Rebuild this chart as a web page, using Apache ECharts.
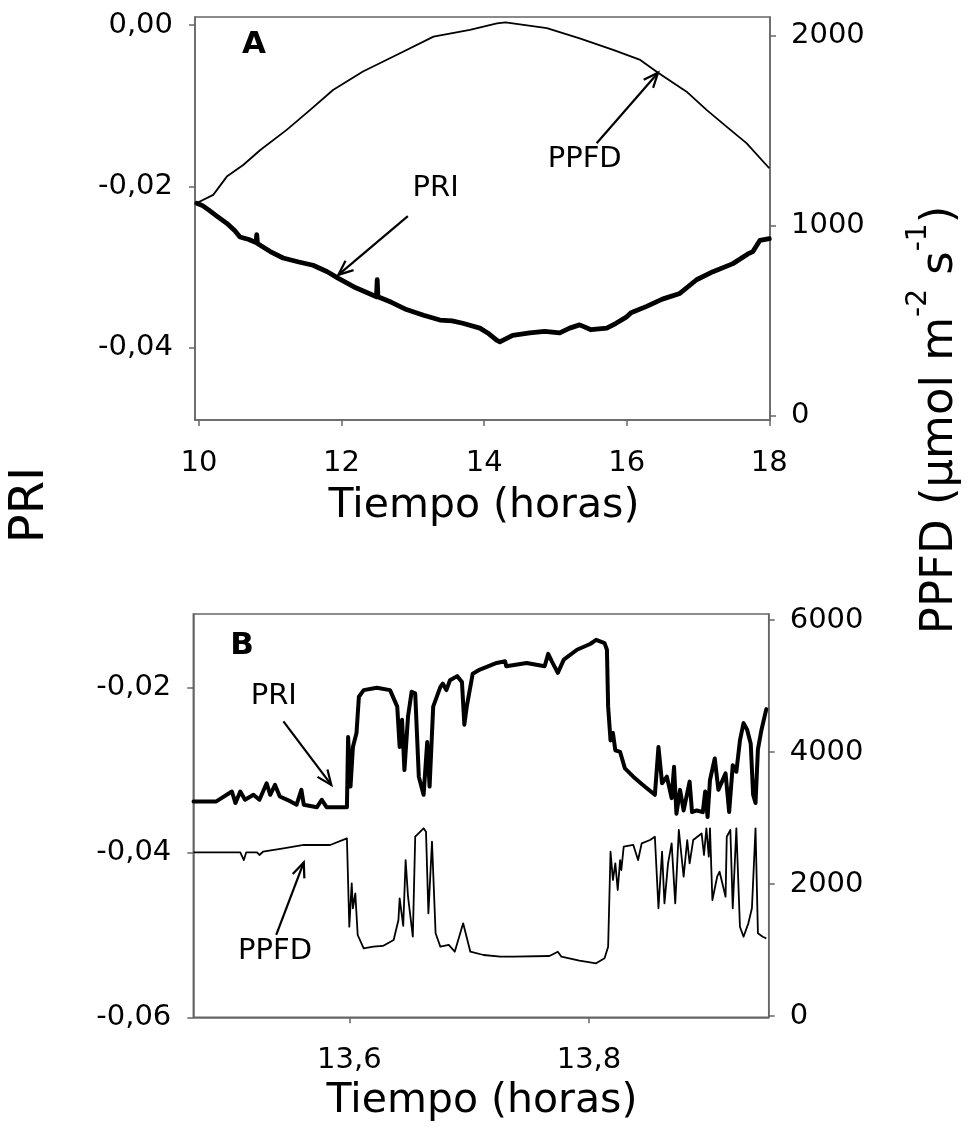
<!DOCTYPE html>
<html><head><meta charset="utf-8">
<script src="https://cdn.jsdelivr.net/npm/echarts@6/dist/echarts.min.js"></script>
<style>html,body{margin:0;padding:0;background:#fff}#c{width:970px;height:1142px}</style>
</head><body><div id="c"></div>
<script>
// ---------- Panel A (Tiempo 10-18 h) ----------
const priA = [[9.97,-0.0221],[10.05,-0.0224],[10.13,-0.0229],[10.25,-0.0237],[10.39,-0.0246],[10.50,-0.0255],[10.575,-0.0263],[10.70,-0.0266],[10.80,-0.0270],[10.81,-0.0260],[10.82,-0.0271],[11.00,-0.0281],[11.18,-0.0289],[11.40,-0.0294],[11.60,-0.0298],[11.80,-0.0306],[11.95,-0.0314],[12.20,-0.0326],[12.49,-0.0337],[12.50,-0.0316],[12.51,-0.0337],[12.70,-0.0344],[12.91,-0.0353],[13.15,-0.0360],[13.38,-0.0366],[13.55,-0.0367],[13.70,-0.0370],[13.94,-0.0376],[14.05,-0.0382],[14.175,-0.0391],[14.22,-0.0393],[14.40,-0.0385],[14.64,-0.0382],[14.85,-0.0380],[15.06,-0.0382],[15.20,-0.0376],[15.34,-0.0372],[15.50,-0.0378],[15.72,-0.0376],[15.85,-0.0370],[16.00,-0.0362],[16.06,-0.0357],[16.28,-0.0349],[16.50,-0.0340],[16.745,-0.0333],[16.98,-0.0316],[17.21,-0.0306],[17.49,-0.0296],[17.70,-0.0284],[17.77,-0.0281],[17.87,-0.0267],[18.00,-0.0265]];
const ppfdA = [[9.97,1119],[10.20,1162],[10.39,1258],[10.62,1319],[10.86,1398],[11.23,1504],[11.56,1609],[11.88,1714],[12.30,1811],[12.82,1907],[13.29,1995],[13.80,2030],[14.18,2065],[14.30,2070],[14.88,2039],[15.34,1986],[15.81,1925],[16.19,1872],[16.44,1805],[16.84,1705],[17.12,1609],[17.40,1521],[17.68,1434],[18.00,1302]];
const xTicksA = [10,12,14,16,18];
const priTicksA = [-0.04,-0.02,0];
const ppfdTicksA = [0,1000,2000];

// ---------- Panel B (Tiempo 13.47-13.95 h) ----------
const priB = [[13.470,-0.0338],[13.489,-0.0338],[13.502,-0.0326],[13.505,-0.0340],[13.509,-0.0326],[13.513,-0.0336],[13.520,-0.0330],[13.525,-0.0336],[13.531,-0.0316],[13.534,-0.0330],[13.538,-0.0318],[13.542,-0.0332],[13.551,-0.0338],[13.556,-0.0342],[13.560,-0.0324],[13.562,-0.0342],[13.573,-0.0345],[13.577,-0.0336],[13.581,-0.0345],[13.598,-0.0345],[13.599,-0.0260],[13.601,-0.0320],[13.603,-0.0272],[13.606,-0.0255],[13.608,-0.0211],[13.612,-0.0203],[13.623,-0.0200],[13.634,-0.0203],[13.640,-0.0223],[13.642,-0.0272],[13.644,-0.0239],[13.646,-0.0300],[13.649,-0.0235],[13.652,-0.0205],[13.655,-0.0207],[13.658,-0.0308],[13.662,-0.0330],[13.665,-0.0266],[13.667,-0.0320],[13.670,-0.0223],[13.676,-0.0199],[13.678,-0.0195],[13.681,-0.0203],[13.684,-0.0191],[13.690,-0.0186],[13.694,-0.0193],[13.696,-0.0245],[13.698,-0.0223],[13.703,-0.0183],[13.709,-0.0178],[13.723,-0.0170],[13.730,-0.0168],[13.731,-0.0174],[13.748,-0.0170],[13.763,-0.0174],[13.766,-0.0159],[13.769,-0.0168],[13.774,-0.0182],[13.779,-0.0166],[13.790,-0.0154],[13.801,-0.0147],[13.806,-0.0142],[13.813,-0.0146],[13.815,-0.0154],[13.816,-0.0223],[13.818,-0.0264],[13.820,-0.0255],[13.822,-0.0276],[13.826,-0.0278],[13.830,-0.0298],[13.837,-0.0308],[13.845,-0.0318],[13.855,-0.0330],[13.858,-0.0272],[13.861,-0.0316],[13.865,-0.0308],[13.869,-0.0334],[13.871,-0.0296],[13.873,-0.0353],[13.876,-0.0324],[13.879,-0.0349],[13.884,-0.0314],[13.886,-0.0351],[13.890,-0.0349],[13.895,-0.0351],[13.897,-0.0326],[13.899,-0.0357],[13.901,-0.0312],[13.905,-0.0286],[13.908,-0.0324],[13.914,-0.0304],[13.917,-0.0351],[13.920,-0.0294],[13.923,-0.0302],[13.926,-0.0264],[13.929,-0.0243],[13.932,-0.0251],[13.935,-0.0268],[13.937,-0.0330],[13.939,-0.0340],[13.941,-0.0275],[13.944,-0.0251],[13.948,-0.0226]];
const ppfdB = [[13.470,2480],[13.509,2480],[13.512,2363],[13.514,2480],[13.523,2480],[13.525,2439],[13.528,2489],[13.545,2541],[13.562,2591],[13.584,2591],[13.598,2692],[13.600,1353],[13.602,2010],[13.603,1632],[13.605,1859],[13.607,1227],[13.612,1026],[13.620,1050],[13.628,1061],[13.637,1151],[13.641,1454],[13.642,1783],[13.645,1364],[13.647,2363],[13.649,1807],[13.653,1201],[13.655,2716],[13.662,2844],[13.664,2792],[13.666,1556],[13.669,2641],[13.672,1253],[13.676,1050],[13.683,1076],[13.688,974],[13.695,1404],[13.701,974],[13.712,924],[13.726,898],[13.737,898],[13.767,909],[13.774,974],[13.777,898],[13.792,838],[13.806,798],[13.813,874],[13.816,1050],[13.818,2489],[13.820,2060],[13.822,2313],[13.824,1909],[13.826,2363],[13.827,2212],[13.829,2565],[13.837,2591],[13.841,2363],[13.844,2616],[13.851,2666],[13.855,2716],[13.858,1632],[13.861,2489],[13.863,1707],[13.866,2313],[13.869,2616],[13.872,1707],[13.875,2818],[13.879,2110],[13.882,2666],[13.884,2313],[13.887,2666],[13.894,2766],[13.896,2439],[13.898,2844],[13.900,2413],[13.901,2844],[13.903,1757],[13.907,2110],[13.909,2186],[13.914,1807],[13.915,2716],[13.918,2818],[13.920,1632],[13.923,2844],[13.926,1353],[13.929,1201],[13.933,1404],[13.936,1632],[13.939,2844],[13.941,1253],[13.945,1201],[13.948,1177]];
const xTicksB = [13.6,13.8];
const priTicksB = [-0.06,-0.04,-0.02];
const ppfdTicksB = [0,2000,4000,6000];

// annotations: panel, y-axis (0 left, 1 right), label, label point, arrow tail, arrow head (data units)
const annPanel = [0,0,1,1];
const annAxis = [0,1,0,0];
const annText = ['PRI','PPFD','PRI','PPFD'];
const annLabelAt = [[13.32,-0.0203],[15.41,1346],[13.537,-0.0211],[13.538,-0.0520]];
const annFrom = [[12.93,-0.0237],[15.578,1434],[13.545,-0.0241],[13.539,-0.0500]];
const annTo = [[11.954,-0.0310],[16.44,1805],[13.585,-0.0318],[13.562,-0.0412]];

const FONT = 'DejaVu Sans';
const AX = '#666';
const fmtPri = v => v.toFixed(2).replace('.', ',');
const fmtX = v => (Math.round(v*10)/10).toString().replace('.', ',');

function xAxis(grid, min, max, ticks, fmt) {
  return {type:'value', gridIndex:grid, min:min, max:max,
    axisLine:{show:true, onZero:false, lineStyle:{color:AX, width:1.5}},
    axisTick:{show:true, customValues:ticks, length:6, lineStyle:{color:AX, width:1.5}},
    axisLabel:{customValues:ticks, formatter:fmt, fontSize:29, fontFamily:FONT, color:'#000', margin:29},
    splitLine:{show:false}};
}
function yAxis(grid, pos, min, max, ticks, fmt) {
  return {type:'value', gridIndex:grid, position:pos, min:min, max:max,
    axisLine:{show:true, onZero:false, lineStyle:{color:AX, width:1.5}},
    axisTick:{show:true, customValues:ticks, length:6, lineStyle:{color:AX, width:1.5}},
    axisLabel:{customValues:ticks, formatter:fmt, fontSize:29, fontFamily:FONT, color:'#000', margin:pos==='left'?22:21},
    splitLine:{show:false}};
}

const option = {
  animation:false,
  backgroundColor:'#fff',
  grid:[
    {left:195, top:17, width:575, height:403, show:true, borderColor:AX, borderWidth:1.5},
    {left:193.3, top:614, width:575.4, height:403.3, show:true, borderColor:AX, borderWidth:1.5}
  ],
  xAxis:[
    xAxis(0, 9.944, 18.01, xTicksA, v => String(v)),
    xAxis(1, 13.4698, 13.95, xTicksB, fmtX)
  ],
  yAxis:[
    yAxis(0, 'left', -0.049, 0.001, priTicksA, fmtPri),
    yAxis(0, 'right', -23, 2098, ppfdTicksA, v => String(v)),
    yAxis(1, 'left', -0.06, -0.01106, priTicksB, fmtPri),
    yAxis(1, 'right', -20, 6091, ppfdTicksB, v => String(v))
  ],
  series:[
    {type:'line', xAxisIndex:0, yAxisIndex:1, data:ppfdA, showSymbol:false, lineStyle:{color:'#000', width:1.8, join:'round'}},
    {type:'line', xAxisIndex:0, yAxisIndex:0, data:priA, showSymbol:false, lineStyle:{color:'#000', width:4.8, join:'round', cap:'round'}},
    {type:'line', xAxisIndex:1, yAxisIndex:3, data:ppfdB, showSymbol:false, lineStyle:{color:'#000', width:1.8, join:'round'}},
    {type:'line', xAxisIndex:1, yAxisIndex:2, data:priB, showSymbol:false, lineStyle:{color:'#000', width:4, join:'round', cap:'round'}}
  ]
};

const chart = echarts.init(document.getElementById('c'), null, {renderer:'canvas'});
chart.setOption(option);

function toPx(panel, axis, pt) {
  return chart.convertToPixel({xAxisIndex:panel, yAxisIndex:panel*2+axis}, pt);
}
const g = [];
function txt(text, x, y, size, extra) {
  return {type:'text', x:x, y:y, style:Object.assign({text:text, fontSize:size, fontFamily:FONT, fill:'#000', align:'center', verticalAlign:'middle'}, extra||{})};
}
for (let i = 0; i < annText.length; i++) {
  const p = annPanel[i], a = annAxis[i];
  const lp = toPx(p, a, annLabelAt[i]);
  g.push(txt(annText[i], lp[0], lp[1], 29));
  const p1 = toPx(p, a, annFrom[i]), p2 = toPx(p, a, annTo[i]);
  const ang = Math.atan2(p2[1]-p1[1], p2[0]-p1[0]);
  const L = 16, h = 0.4;
  const h1 = [p2[0]-L*Math.cos(ang-h), p2[1]-L*Math.sin(ang-h)];
  const h2 = [p2[0]-L*Math.cos(ang+h), p2[1]-L*Math.sin(ang+h)];
  g.push({type:'polyline', shape:{points:[p1,p2]}, style:{stroke:'#000', lineWidth:2.2, fill:'none'}});
  g.push({type:'polyline', shape:{points:[h1,p2,h2]}, style:{stroke:'#000', lineWidth:2.2, fill:'none', lineJoin:'miter'}});
}
g.push(txt('A', 254, 45, 31, {fontWeight:'bold'}));
g.push(txt('B', 242, 646, 31, {fontWeight:'bold'}));
g.push(txt('Tiempo (horas)', 484, 506, 41));
g.push(txt('Tiempo (horas)', 482, 1101, 41));
g.push(Object.assign(txt('PRI', 31, 505, 48), {rotation:Math.PI/2}));
g.push({type:'text', x:940, y:420, rotation:Math.PI/2, style:{
  text:'{a|PPFD (µmol m}{s|-2}{a| s}{s|-1}{a|)}', fontFamily:FONT, fill:'#000', align:'center', verticalAlign:'middle',
  rich:{
    a:{fontSize:45, fontFamily:FONT, fill:'#000', lineHeight:46, verticalAlign:'bottom'},
    s:{fontSize:28, fontFamily:FONT, fill:'#000', lineHeight:28, padding:[0,0,30,0], verticalAlign:'bottom'}
  }}});
chart.setOption({graphic:g});
</script></body></html>
